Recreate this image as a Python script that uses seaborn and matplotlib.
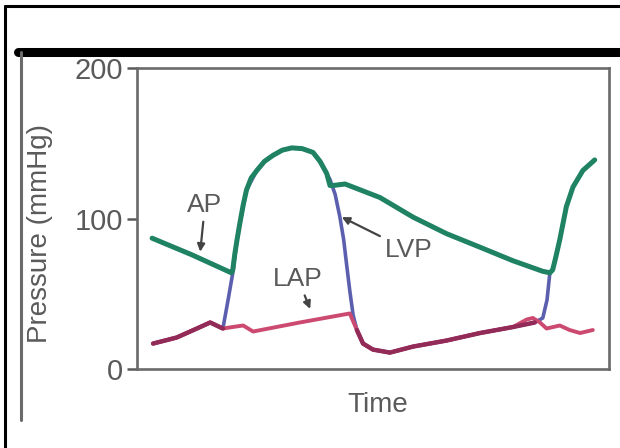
import matplotlib
matplotlib.use("Agg")
import matplotlib.pyplot as plt
import seaborn as sns
import numpy as np
from matplotlib.lines import Line2D

# --- data (time in arbitrary units, pressure in mmHg) ---
ap_t = [32, 116, 200, 203, 207, 212, 218, 225, 232, 242, 254, 270, 288,
        308, 328, 350, 373, 388, 402, 409, 415, 441, 515, 585, 656, 727,
        797, 860, 875, 881, 888, 896, 910, 924, 945, 970]
ap_p = [87, 76, 64, 66, 76, 86, 97, 109, 119, 127, 132, 138, 142,
        145.5, 147, 146.5, 144, 138, 130, 122, 122, 123, 114, 101, 90, 81,
        72, 65, 64, 66, 75, 86, 108, 121, 132, 139]

lvp_t = [34, 84, 134, 155, 182, 193, 203, 212, 218, 232, 254, 270, 288,
         308, 328, 350, 373, 388, 402, 409, 420, 430, 438, 444, 451, 458,
         466, 479, 500, 536, 585, 656, 727, 797, 843, 860, 869, 875]
lvp_p = [17, 21, 28, 31, 27, 46, 64, 86, 97, 119, 132, 138, 142,
         145.5, 147, 146.5, 144, 138, 130, 126, 116, 101, 86, 70, 52, 36,
         26, 17, 13, 11, 15, 19, 24, 28, 31, 34, 46, 64]

lap_t = [34, 84, 134, 155, 182, 203, 225, 246, 345, 451, 466, 479, 500,
         536, 585, 656, 727, 797, 826, 839, 854, 868, 896, 917, 939, 966]
lap_p = [17, 21, 28, 31, 27, 28, 29, 25, 31, 37, 26, 17, 13,
         11, 15, 19, 24, 28, 33, 34, 31, 27, 29, 26, 24, 26]

labels = ["AP", "LAP", "LVP"]
label_xy = [(144, 109), (341, 60), (575, 79)]
arrow_xy = [(134, 78), (367, 40), (434, 101)]

GREEN = "#1f8263"
BLUE = "#5b5fae"
RED = "#cc4a70"
MAROON = "#922b58"
GRAY = "#5a5a5a"

sns.set_style("white")
plt.rcParams["font.family"] = ["Liberation Sans", "DejaVu Sans"]

fig = plt.figure(figsize=(6.2, 4.48), dpi=100)
ax = fig.add_axes([0.221, 0.176, 0.761, 0.672])

sns.lineplot(x=lvp_t, y=lvp_p, sort=False, color=BLUE, lw=2.6, ax=ax)
sns.lineplot(x=lap_t, y=lap_p, sort=False, color=RED, lw=2.8, ax=ax)

# ventricular filling: LVP lies on LAP, drawn darker
fill_p = np.where(np.array(lvp_p) <= 31, lvp_p, np.nan)
ax.plot(lvp_t, fill_p, color=MAROON, lw=3.2, solid_capstyle="round")

sns.lineplot(x=ap_t, y=ap_p, sort=False, color=GREEN, lw=3.6, ax=ax)

for lab, txy, axy in zip(labels, label_xy, arrow_xy):
    ax.annotate(lab, xy=axy, xytext=txy, ha="center", va="center",
                fontsize=19, color=GRAY,
                arrowprops=dict(arrowstyle="-|>", color="#444444", lw=1.6,
                                mutation_scale=11, shrinkA=1, shrinkB=0))

ax.set_xlim(0, 1000)
ax.set_ylim(0, 200)
ax.set_xticks([])
ax.set_yticks([0, 100, 200])
ax.tick_params(axis="y", direction="out", length=7, width=1.8, color=GRAY,
               labelsize=21, labelcolor=GRAY, pad=3, left=True)
for s in ax.spines.values():
    s.set_color("#6a6a6a")
    s.set_linewidth(1.9)

ax.set_ylabel("Pressure (mmHg)", fontsize=20, color=GRAY)
ax.yaxis.set_label_coords(-0.178, 0.45)
ax.set_xlabel("Time", fontsize=20, color=GRAY)
ax.xaxis.set_label_coords(0.51, -0.075)

# scanned-slide frame lines
fig.add_artist(Line2D([0.008, 0.008], [0, 0.987], color="black", lw=2.2))
fig.add_artist(Line2D([0.008, 1], [0.987, 0.987], color="black", lw=2.2))
fig.add_artist(Line2D([0.029, 1], [0.883, 0.883], color="black", lw=6.5))
fig.add_artist(Line2D([0.034, 0.034], [0.063, 0.883], color="#6a6a6a", lw=2.2))

fig.savefig("out.png", dpi=100, facecolor="white")
